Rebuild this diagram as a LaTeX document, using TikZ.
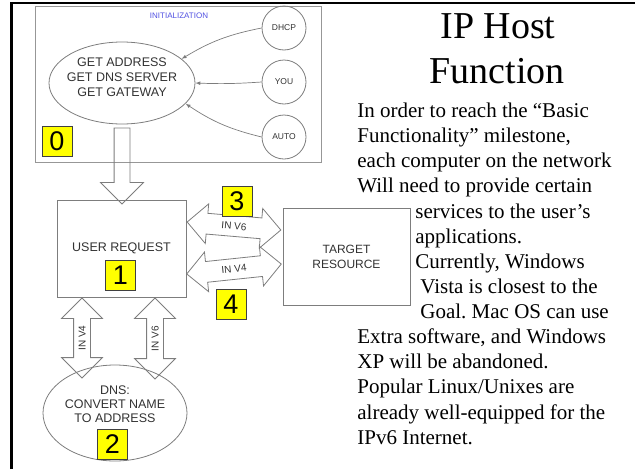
\documentclass[tikz,border=0pt]{standalone}
\usepackage{fontspec}
\setmainfont{Liberation Serif}
\newfontfamily\arialfont{Liberation Sans}
\usepackage{xcolor}
\usepackage{tikz}
\usetikzlibrary{shapes}
\usetikzlibrary{calc}
\frenchspacing
\definecolor{linegray}{RGB}{125,125,125}
\definecolor{textgray}{RGB}{50,50,50}
\definecolor{initblue}{RGB}{80,80,225}
\definecolor{numyellow}{RGB}{255,255,0}
\tikzset{ step_box/.style = {rectangle, draw=linegray, text=textgray, align=center, inner sep=0pt, font=\arialfont\fontsize{12.5}{15}\selectfont} }
\tikzset{ step_text/.style = {text=textgray, align=center, inner sep=0pt, font=\arialfont\fontsize{12.5}{15}\selectfont} }
\tikzset{ num_box/.style = {rectangle, draw=black!75, fill=numyellow, minimum size=30pt, inner sep=0pt, font=\arialfont\fontsize{27}{27}\selectfont} }
\tikzset{ src_circ/.style = {circle, draw=linegray, minimum size=44pt, inner sep=0pt, text=textgray, font=\arialfont\fontsize{8.5}{9}\selectfont} }
\tikzset{ feed/.style = {draw=linegray, line width=0.7pt, -latex} }
\tikzset{ dbl_arrow/.style = {double arrow, draw=linegray, text=textgray, font=\arialfont\fontsize{10}{10}\selectfont, text height=7pt, text depth=0pt, inner xsep=0pt, minimum width=0pt} }
\tikzset{ body_text/.style = {anchor=base west, inner sep=0pt, font=\fontsize{21}{25}\selectfont} }

\begin{document}
\begin{tikzpicture}[x=1pt, y=-1pt, line width=0.8pt]
        \useasboundingbox (0,0) rectangle (635,469);
        % frame
        \draw[line width=2.7pt] (11.5,469) -- (11.5,3) -- (635,3);

        % initialization
        \node[draw=linegray!80, minimum width=286pt, minimum height=156pt, inner sep=0pt] (initbox) at (178,84) {};
        \node[text=initblue, inner sep=0pt, font=\arialfont\fontsize{8}{8}\selectfont] (inittitle) at (179,16) {INITIALIZATION};
        \node[ellipse, draw=linegray, minimum width=146pt, minimum height=82pt, inner sep=0pt] (getinfo) at (122,83) {};
        \node[step_text] (gettext) at (122,77) {GET ADDRESS\\GET DNS SERVER\\GET GATEWAY};
        \node[src_circ] (dhcp) at (284,28) {DHCP};
        \node[src_circ] (you) at (284,82) {YOU};
        \node[src_circ] (auto) at (284,137) {AUTO};
        \draw[feed] (dhcp.west) to[bend right=10] (getinfo.22);
        \draw[feed] (you.west) to[bend left=3] (getinfo.east);
        \draw[feed] (auto.west) to[bend left=10] (getinfo.-18);
        \node[num_box] (n0) at (57,141) {0};

        % request and target
        \node[single arrow, draw=linegray, rotate=-90, text height=15pt, text depth=0pt, inner sep=0pt, minimum width=0pt, minimum height=76pt, single arrow head extend=13.5pt] (downarrow) at (122,162) {};
        \node[step_box, minimum width=129pt, minimum height=97pt] (user) at (121.5,248.5) {USER REQUEST};
        \node[num_box] (n1) at (120.5,275) {1};
        \node[step_box, minimum width=127pt, minimum height=97pt, font=\arialfont\fontsize{12}{15}\selectfont] (target) at (346.5,256.5) {TARGET\\RESOURCE};
        \node[dbl_arrow, inner ysep=6.5pt, double arrow head extend=9.5pt, minimum height=94pt, rotate=-4.9] (v6link) at (234,226) {IN V6};
        \node[dbl_arrow, inner ysep=6.5pt, double arrow head extend=9.5pt, minimum height=95pt, rotate=6] (v4link) at (234,269) {IN V4};
        \node[num_box] (n3) at (237,201) {3};
        \node[num_box] (n4) at (231,304.5) {4};

        % dns
        \node[ellipse, draw=linegray, minimum width=144pt, minimum height=96pt, inner sep=0pt] (dns) at (115,413) {};
        \node[step_text, font=\arialfont\fontsize{12.5}{14}\selectfont] (dnstext) at (115,404) {DNS:\\CONVERT NAME\\TO ADDRESS};
        \node[num_box] (n2) at (112.5,444.5) {2};
        \node[dbl_arrow, inner ysep=4.5pt, double arrow head extend=12pt, minimum height=80pt, rotate=90] (dnsv4) at (82,338) {IN V4};
        \node[dbl_arrow, inner ysep=4.5pt, double arrow head extend=12pt, minimum height=81pt, rotate=90] (dnsv6) at (155,338.5) {IN V6};

        % text
        \node[anchor=base, inner sep=0pt, font=\fontsize{38}{38}\selectfont] (title1) at (498,38) {IP Host};
        \node[anchor=base, inner sep=0pt, font=\fontsize{38}{38}\selectfont] (title2) at (497,83) {Function};
        \node[body_text] (line1) at (357,117) {In order to reach the “Basic};
        \node[body_text] (line2) at (357,142) {Functionality” milestone,};
        \node[body_text] (line3) at (357,167) {each computer on the network};
        \node[body_text] (line4) at (357,192.5) {Will need to provide certain};
        \node[body_text] (line5) at (415,218) {services to the user’s};
        \node[body_text] (line6) at (415,243) {applications.};
        \node[body_text] (line7) at (415,268) {Currently, Windows};
        \node[body_text] (line8) at (420,293) {Vista is closest to the};
        \node[body_text] (line9) at (420,318.5) {Goal. Mac OS can use};
        \node[body_text] (line10) at (357,343.5) {Extra software, and Windows};
        \node[body_text] (line11) at (357,368.5) {XP will be abandoned.};
        \node[body_text] (line12) at (357,393.5) {Popular Linux/Unixes are};
        \node[body_text] (line13) at (357,419) {already well-equipped for the};
        \node[body_text] (line14) at (357,444) {IPv6 Internet.};
    \end{tikzpicture}
\end{document}
